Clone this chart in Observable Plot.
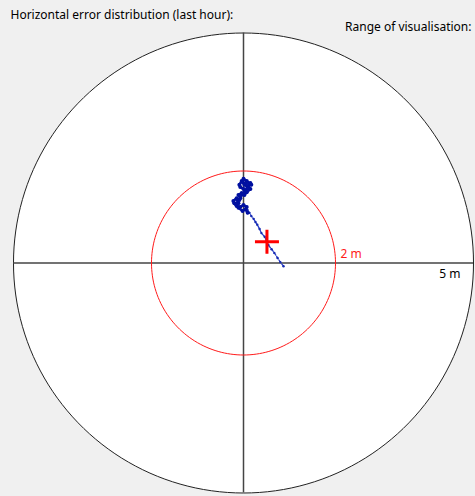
<!DOCTYPE html>
<html>
<head>
<meta charset="utf-8">
<script src="https://cdn.jsdelivr.net/npm/d3@7"></script>
<script src="https://cdn.jsdelivr.net/npm/@observablehq/plot@0.6"></script>
<style>
  html, body { margin: 0; padding: 0; background: #f0f0f0; }
  #chart svg { display: block; }
</style>
</head>
<body>
<div id="chart"></div>
<script>
// Texts
const title = "Horizontal error distribution (last hour):";
const rangeLabel = "Range of visualisation:";

// Range rings (metres)
const outerRing = 5;
const innerRing = 2;

// Horizontal error track, trail part (east, north in metres)
const trailEast = [0.87, 0.80, 0.74, 0.67, 0.61, 0.54, 0.50, 0.46, 0.39, 0.35, 0.30, 0.26, 0.22, 0.17, 0.13, 0.09, 0.07];
const trailNorth = [-0.07, 0.02, 0.11, 0.22, 0.30, 0.39, 0.48, 0.57, 0.65, 0.74, 0.83, 0.89, 0.96, 1.02, 1.09, 1.15, 1.22];

// Horizontal error track, cluster part (east, north in metres)
const clusterEast = [0.07, 0.00, -0.07, -0.15, -0.20, -0.22, -0.15, -0.11, -0.13, -0.07, -0.11, -0.04, 0.02, 0.07, 0.15,
  0.00, -0.07, -0.09, -0.04, 0.02, 0.09, 0.13, 0.17, 0.07, 0.00, -0.02, 0.04, 0.15, 0.11, 0.04, -0.02,
  -0.09, -0.17, -0.11, -0.02, 0.04, 0.09];
const clusterNorth = [1.22, 1.26, 1.22, 1.24, 1.30, 1.35, 1.41, 1.30, 1.37, 1.41, 1.48, 1.52, 1.48, 1.54, 1.61,
  1.61, 1.65, 1.70, 1.78, 1.70, 1.65, 1.72, 1.70, 1.78, 1.83, 1.76, 1.72, 1.74, 1.63, 1.57, 1.50,
  1.37, 1.28, 1.20, 1.13, 1.17, 1.09];

// Mean position (red cross)
const meanEast = [0.51];
const meanNorth = [0.46];

const trail = trailEast.map((e, i) => ({x: e, y: trailNorth[i]}));
const cluster = clusterEast.map((e, i) => ({x: e, y: clusterNorth[i]}));
const mean = meanEast.map((e, i) => ({x: e, y: meanNorth[i]}));

function ring(r) {
  return d3.range(0, 361, 2).map(a => ({x: r * Math.cos(a * Math.PI / 180), y: r * Math.sin(a * Math.PI / 180)}));
}

const plusSymbol = {
  draw(context, size) {
    const h = Math.sqrt(size / Math.PI);
    context.moveTo(-h, 0); context.lineTo(h, 0);
    context.moveTo(0, -h); context.lineTo(0, h);
  }
};

const chart = Plot.plot({
  width: 475,
  height: 496,
  marginLeft: 13,
  marginRight: 2,
  marginTop: 32.5,
  marginBottom: 3.5,
  x: {domain: [-outerRing, outerRing], axis: null},
  y: {domain: [-outerRing, outerRing], axis: null},
  style: {background: "#f0f0f0", fontFamily: "'Noto Sans', sans-serif", fontSize: "12px", color: "#000"},
  marks: [
    Plot.line(ring(outerRing), {x: "x", y: "y", fill: "white", stroke: "#222", strokeWidth: 1}),
    Plot.ruleY([0], {x1: -outerRing, x2: outerRing, stroke: "#444", strokeWidth: 1.5}),
    Plot.ruleX([0], {y1: -outerRing, y2: outerRing, stroke: "#444", strokeWidth: 1.5}),
    Plot.line(ring(innerRing), {x: "x", y: "y", stroke: "#ff1a1a", strokeWidth: 1}),
    Plot.line(trail, {x: "x", y: "y", stroke: "#2a40c8", strokeWidth: 1.3, strokeDasharray: "3,1.5"}),
    Plot.dot(trail, {x: "x", y: "y", r: 1.2, fill: "#1428b0", stroke: "none"}),
    Plot.line(cluster, {x: "x", y: "y", stroke: "#0a14a8", strokeWidth: 2.6, strokeLinejoin: "round"}),
    Plot.dot(cluster, {x: "x", y: "y", r: 2, fill: "#0010a0", stroke: "none"}),
    Plot.dot(mean, {x: "x", y: "y", symbol: plusSymbol, r: 12, stroke: "#ff0000", strokeWidth: 3, fill: "none"}),
    Plot.text([innerRing], {x: d => d, y: 0, text: d => `${d} m`, fill: "#ff1a1a", textAnchor: "start", dx: 5, dy: -9.3}),
    Plot.text([outerRing], {x: d => d, y: 0, text: d => `${d} m`, fill: "#000", textAnchor: "end", dx: -13, dy: 10.7}),
    Plot.text([title], {frameAnchor: "top-left", text: d => d, textAnchor: "start", lineAnchor: "top", dx: -3, dy: -23, fill: "#000"}),
    Plot.text([rangeLabel], {frameAnchor: "top-right", text: d => d, textAnchor: "end", lineAnchor: "top", dx: -2, dy: -11, fill: "#000"})
  ]
});
document.getElementById("chart").appendChild(chart);
</script>
</body>
</html>
